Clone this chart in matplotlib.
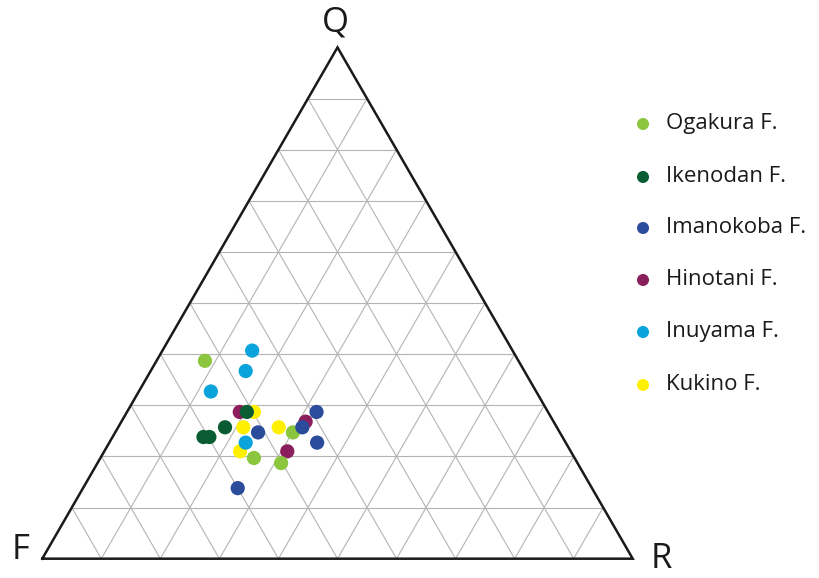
import numpy as np
import matplotlib
matplotlib.use("Agg")
import matplotlib.pyplot as plt

plt.rcParams['font.family'] = ['Open Sans', 'DejaVu Sans']

# Ternary composition (percent): Q (quartz), F (feldspar), R (rock fragments)
formations = ["Ogakura F.", "Ikenodan F.", "Imanokoba F.", "Hinotani F.", "Inuyama F.", "Kukino F."]
colors = ["#8cc63f", "#0a5c32", "#2b4b9b", "#8b1e5c", "#0aa3dc", "#fff000"]

ogakura_Q = [38.7, 24.7, 19.7, 18.7]
ogakura_R = [8.2, 30.1, 26.0, 31.1]

ikenodan_Q = [28.7, 25.7, 23.8, 23.8]
ikenodan_R = [20.3, 18.1, 15.4, 16.4]

imanokoba_Q = [28.7, 24.7, 25.7, 22.7, 13.8]
imanokoba_R = [32.1, 24.2, 31.2, 35.2, 26.2]

hinotani_Q = [28.7, 26.8, 21.0]
hinotani_R = [19.1, 31.2, 31.0]

inuyama_Q = [40.7, 36.7, 32.7, 22.7]
inuyama_R = [15.2, 16.1, 12.2, 23.1]

kukino_Q = [28.7, 25.7, 25.7, 21.0]
kukino_R = [21.5, 21.2, 27.2, 23.0]

series_Q = [ogakura_Q, ikenodan_Q, imanokoba_Q, hinotani_Q, inuyama_Q, kukino_Q]
series_R = [ogakura_R, ikenodan_R, imanokoba_R, hinotani_R, inuyama_R, kukino_R]

H = np.sqrt(3) / 2


def to_xy(q, r):
    q = np.asarray(q, dtype=float) / 100.0
    r = np.asarray(r, dtype=float) / 100.0
    return r + q / 2.0, q * H


fig = plt.figure(figsize=(8.2, 5.78), dpi=100)
ax = fig.add_axes([0, 0, 1, 1])
ax.set_xlim(-0.0716, 1.3172)
ax.set_ylim(-0.0327, 0.9463)
ax.axis("off")

# Grid lines every 10 %
grid_kw = dict(color="#b4b4b4", lw=0.8, zorder=1)
for k in range(1, 10):
    c = k * 10
    # constant Q
    x, y = to_xy([c, c], [0, 100 - c])
    ax.plot(x, y, **grid_kw)
    # constant R
    x, y = to_xy([0, 100 - c], [c, c])
    ax.plot(x, y, **grid_kw)
    # constant F
    x, y = to_xy([0, 100 - c], [100 - c, 0])
    ax.plot(x, y, **grid_kw)

# Triangle outline
x, y = to_xy([0, 0, 100, 0], [0, 100, 0, 0])
ax.plot(x, y, color="#1a1a1a", lw=1.8, zorder=2, solid_joinstyle="miter")

# Vertex labels
ax.text(-0.0375, 0.014, "F", fontsize=25, ha="center", va="center", color="#1a1a1a")
ax.text(1.048, -0.001, "R", fontsize=25, ha="center", va="center", color="#1a1a1a")
ax.text(0.4958, 0.909, "Q", fontsize=25, ha="center", va="center", color="#1a1a1a")

# Samples, drawn so the darker groups sit on top
order = [5, 4, 3, 0, 2, 1]
for i in order:
    x, y = to_xy(series_Q[i], series_R[i])
    ax.scatter(x, y, s=105, color=colors[i], edgecolors="none", zorder=3 + order.index(i))

# Legend
leg_y_px = [124, 177, 228, 280, 332, 385]
for name, col, ypx in zip(formations, colors, leg_y_px):
    yd = (558.7 - ypx) / 590.4
    xm = (643 - 42.3) / 590.4
    xt = (666 - 42.3) / 590.4
    ax.scatter([xm], [yd], s=75, color=col, edgecolors="none", zorder=10)
    ax.text(xt, yd, name, fontsize=16, ha="left", va="center", color="#1a1a1a")

fig.savefig("out.png", dpi=100)
